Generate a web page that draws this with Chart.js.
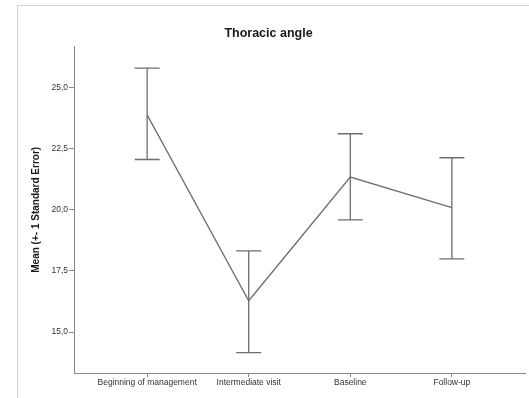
<!DOCTYPE html>
<html>
<head>
<meta charset="utf-8">
<script src="https://cdn.jsdelivr.net/npm/chart.js@4/dist/chart.umd.min.js"></script>
<style>
  body { margin: 0; background: #fff; }
  #wrap { position: relative; width: 529px; height: 398px; overflow: hidden; }
  #frame { position: absolute; left: 17px; top: 5px; width: 600px; height: 500px;
           border-left: 1px solid #d4d4d4; border-top: 1px solid #d4d4d4; }
  #chart { position: absolute; left: 0; top: 0; }
</style>
</head>
<body>
<div id="wrap">
  <div id="frame"></div>
  <canvas id="chart" width="529" height="398"></canvas>
</div>
<script>
const categories = ['Beginning of management', 'Intermediate visit', 'Baseline', 'Follow-up'];
const means = [23.87, 16.28, 21.33, 20.08];
const upperSE = [25.78, 18.32, 23.10, 22.12];
const lowerSE = [22.05, 14.16, 19.58, 17.99];
const yTicks = [15, 17.5, 20, 22.5, 25];

const lineColor = '#6e6e6e';

// error bars drawn through the chart's own scales
const errorBars = {
  id: 'errorBars',
  afterDatasetsDraw(chart) {
    const { ctx, scales: { x, y } } = chart;
    ctx.save();
    ctx.strokeStyle = lineColor;
    ctx.lineWidth = 1.3;
    categories.forEach((c, i) => {
      const px = x.getPixelForValue(i);
      const top = y.getPixelForValue(upperSE[i]);
      const bot = y.getPixelForValue(lowerSE[i]);
      ctx.beginPath();
      ctx.moveTo(px, top); ctx.lineTo(px, bot);
      ctx.moveTo(px - 12.5, top); ctx.lineTo(px + 12.5, top);
      ctx.moveTo(px - 12.5, bot); ctx.lineTo(px + 12.5, bot);
      ctx.stroke();
    });
    ctx.restore();
  }
};

new Chart(document.getElementById('chart'), {
  type: 'scatter',
  data: {
    datasets: [{
      data: means.map((m, i) => ({ x: i, y: m })),
      showLine: true,
      borderColor: lineColor,
      borderWidth: 1.3,
      pointRadius: 0,
      tension: 0
    }]
  },
  options: {
    responsive: false,
    animation: false,
    layout: { padding: { left: 12, right: 4, top: 0, bottom: 0 } },
    plugins: {
      legend: { display: false },
      tooltip: { enabled: false },
      title: {
        display: true,
        text: 'Thoracic angle',
        color: '#1a1a1a',
        font: { family: 'Liberation Sans, Arial, sans-serif', size: 12.5, weight: 'bold' },
        padding: { top: 26, bottom: 5.6 }
      }
    },
    scales: {
      x: {
        type: 'linear',
        min: -0.72,
        max: 3.72,
        afterBuildTicks: s => { s.ticks = categories.map((c, i) => ({ value: i })); },
        afterFit: s => { s.height = 25; },
        ticks: {
          callback: v => categories[v],
          color: '#333',
          font: { family: 'Liberation Sans, Arial, sans-serif', size: 8.5 },
          padding: 1,
          maxRotation: 0,
          autoSkip: false
        },
        grid: { drawOnChartArea: false, drawTicks: true, tickLength: 4, color: '#888' },
        border: { display: true, color: '#888', width: 1 }
      },
      y: {
        min: 13.33,
        max: 26.66,
        afterBuildTicks: s => { s.ticks = yTicks.map(v => ({ value: v })); },
        afterFit: s => { s.width = 62; },
        ticks: {
          callback: v => v.toFixed(1).replace('.', ','),
          color: '#333',
          font: { family: 'Liberation Sans, Arial, sans-serif', size: 8.5 },
          padding: 1
        },
        grid: { drawOnChartArea: false, drawTicks: true, tickLength: 5, color: '#888' },
        border: { display: true, color: '#888', width: 1 },
        title: {
          display: true,
          text: 'Mean (+- 1 Standard Error)',
          color: '#1a1a1a',
          font: { family: 'Liberation Sans, Arial, sans-serif', size: 10, weight: 'bold' },
          padding: { top: 18, bottom: 4 }
        }
      }
    }
  },
  plugins: [errorBars]
});
</script>
</body>
</html>
